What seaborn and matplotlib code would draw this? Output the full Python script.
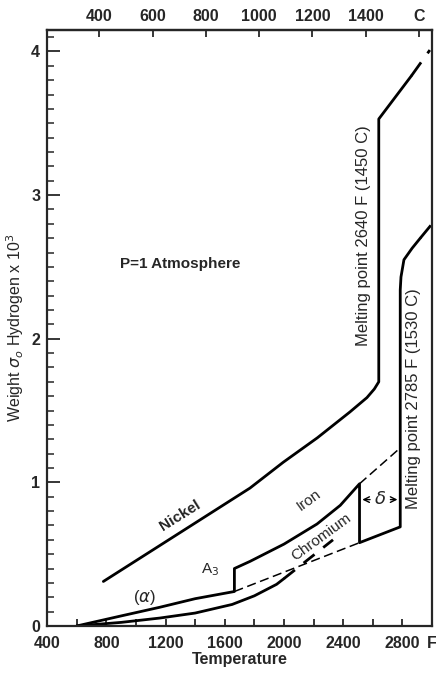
import matplotlib
matplotlib.use("Agg")
import matplotlib.pyplot as plt
import seaborn as sns
from matplotlib.ticker import MultipleLocator, FixedLocator

sns.set_style("ticks")
plt.rcParams['font.family'] = ['Liberation Sans', 'DejaVu Sans']

# nickel: solid then jump at melting point, then liquid
nickel_T = [780, 1100, 1770, 1995, 2225, 2445, 2560, 2610, 2640, 2640, 2860]
nickel_W = [0.31, 0.52, 0.96, 1.14, 1.31, 1.49, 1.59, 1.65, 1.70, 3.53, 3.83]
nickel_dash_T = [2860, 2985]
nickel_dash_W = [3.83, 4.01]

# iron: alpha -> A3 jump -> gamma -> delta -> melting -> liquid
iron_T = [600, 900, 1160, 1400, 1665, 1665, 1771, 2000, 2223, 2380, 2510, 2510, 2785, 2785,
          2790, 2810, 2865, 2920]
iron_W = [0.0, 0.07, 0.13, 0.19, 0.24, 0.40, 0.45, 0.57, 0.71, 0.84, 0.99, 0.58, 0.69, 2.34,
          2.43, 2.55, 2.63, 2.70]
iron_liq_dash_T = [2920, 3000]
iron_liq_dash_W = [2.70, 2.80]
gamma_dash_T = [2510, 2785]
gamma_dash_W = [0.99, 1.24]
alpha_dash_T = [1665, 2510]
alpha_dash_W = [0.24, 0.58]

# chromium
chrom_T = [600, 900, 1160, 1400, 1650, 1800, 1950, 2000]
chrom_W = [0.0, 0.025, 0.055, 0.09, 0.15, 0.21, 0.29, 0.33]
chrom_dash_T = [2000, 2331]
chrom_dash_W = [0.33, 0.60]

f_ticks = list(range(400, 3001, 200))
f_labels = ['400', '', '800', '', '1200', '', '1600', '', '2000', '', '2400', '', '2800', 'F']
c_ticks = list(range(400, 1601, 200))
c_labels = ['400', '600', '800', '1000', '1200', '1400', 'C']
w_ticks = [0, 1, 2, 3, 4]
w_labels = ['0', '1', '2', '3', '4']

fig = plt.figure(figsize=(4.36, 6.76), dpi=100)
ax = fig.add_axes([0.108, 0.074, 0.883, 0.8817])

lw = 2.0
sns.lineplot(x=nickel_T, y=nickel_W, sort=False, estimator=None, color='black', lw=lw, ax=ax)
sns.lineplot(x=nickel_dash_T, y=nickel_dash_W, sort=False, estimator=None, color='black', lw=lw,
             linestyle=(0, (6, 4)), ax=ax)
sns.lineplot(x=iron_T, y=iron_W, sort=False, estimator=None, color='black', lw=lw, ax=ax)
sns.lineplot(x=iron_liq_dash_T, y=iron_liq_dash_W, sort=False, estimator=None, color='black', lw=lw,
             linestyle=(0, (6, 4)), ax=ax)
sns.lineplot(x=gamma_dash_T, y=gamma_dash_W, sort=False, estimator=None, color='black', lw=1.1,
             linestyle=(0, (6, 3)), ax=ax)
sns.lineplot(x=alpha_dash_T, y=alpha_dash_W, sort=False, estimator=None, color='black', lw=1.1,
             linestyle=(0, (6, 3)), ax=ax)
sns.lineplot(x=chrom_T, y=chrom_W, sort=False, estimator=None, color='black', lw=lw, ax=ax)
sns.lineplot(x=chrom_dash_T, y=chrom_dash_W, sort=False, estimator=None, color='black', lw=lw,
             linestyle=(0, (5, 4)), ax=ax)

ax.set_xlim(400, 3000)
ax.set_ylim(0, 4.15)

for s in ax.spines.values():
    s.set_linewidth(1.6)
    s.set_visible(True)

ax.xaxis.set_major_locator(FixedLocator(f_ticks))
ax.set_xticklabels(f_labels, fontsize=11.5, fontweight='bold')
ax.yaxis.set_major_locator(FixedLocator(w_ticks))
ax.yaxis.set_minor_locator(MultipleLocator(0.1))
ax.set_yticklabels(w_labels, fontsize=11.5, fontweight='bold')
ax.tick_params(axis='x', direction='in', length=5, width=1.3, pad=7, top=False)
ax.tick_params(axis='y', which='major', direction='in', length=9, width=1.3, pad=5, right=False)
ax.tick_params(axis='y', which='minor', direction='in', length=5, width=1.1, right=False)

def f2c(t):
    return (t - 32) * 5 / 9

def c2f(t):
    return t * 9 / 5 + 32

secax = ax.secondary_xaxis('top', functions=(f2c, c2f))
secax.set_xticks(c_ticks)
secax.set_xticklabels(c_labels, fontsize=11.5, fontweight='bold')
secax.tick_params(direction='in', length=5, width=1.3, pad=4)
secax.spines['top'].set_linewidth(1.6)

ax.set_xlabel('Temperature', fontsize=11.5, fontweight='bold', labelpad=1)
ax.set_ylabel('Weight $\\sigma_o$ Hydrogen x 10$^3$', fontsize=11.5, labelpad=4)

ax.text(1300, 2.52, 'P=1 Atmosphere', fontsize=11, fontweight='bold', ha='center', va='center')
ax.text(1300, 0.77, 'Nickel', fontsize=11, fontweight='bold', rotation=32, ha='center', va='center')
ax.text(2170, 0.88, 'Iron', fontsize=11, rotation=36, ha='center', va='center')
ax.text(2255, 0.62, 'Chromium', fontsize=11, rotation=36, ha='center', va='center')
ax.text(1500, 0.39, 'A$_3$', fontsize=11, ha='center', va='center')
ax.text(1060, 0.2, '($\\alpha$)', fontsize=12, ha='center', va='center')
ax.text(2540, 2.72, 'Melting point 2640 F (1450 C)', fontsize=12, rotation=90, ha='center', va='center')
ax.text(2875, 1.58, 'Melting point 2785 F (1530 C)', fontsize=12, rotation=90, ha='center', va='center')

ax.annotate('', xy=(2510, 0.88), xytext=(2600, 0.88),
            arrowprops=dict(arrowstyle='->', color='black', lw=1))
ax.annotate('', xy=(2785, 0.88), xytext=(2700, 0.88),
            arrowprops=dict(arrowstyle='->', color='black', lw=1))
ax.text(2650, 0.88, '$\\delta$', fontsize=13, ha='center', va='center')

fig.savefig('out.png', dpi=100)
